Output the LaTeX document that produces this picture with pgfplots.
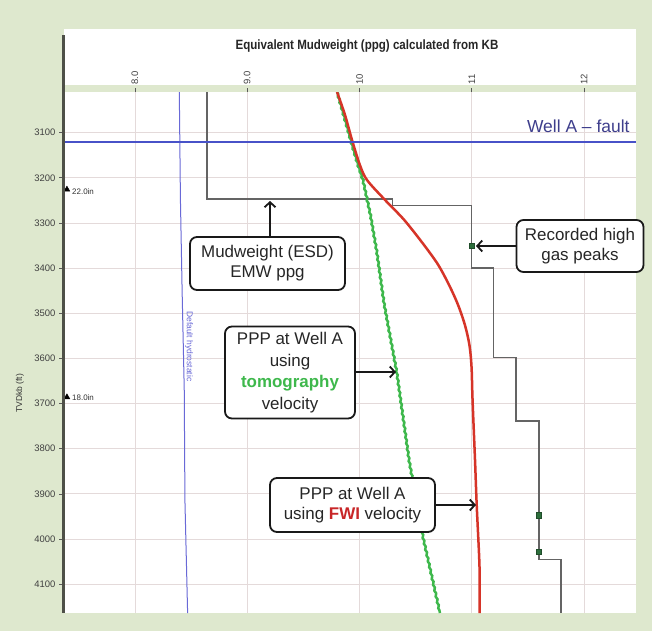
\documentclass[border=0pt]{standalone}
\usepackage{pgfplots}
\pgfplotsset{compat=1.18}
\usepackage{fontspec}
\setmainfont{Liberation Sans}
\newfontfamily\narrowfont[FakeStretch=0.86]{Liberation Sans}
\usetikzlibrary{arrows.meta,decorations.pathmorphing}
\definecolor{bggreen}{RGB}{222,232,206}
\definecolor{gridc}{RGB}{228,218,218}
\definecolor{fwired}{RGB}{214,52,40}
\definecolor{fwitext}{RGB}{200,38,40}
\definecolor{tomogreen}{RGB}{62,184,76}
\definecolor{mudgray}{RGB}{100,100,100}
\definecolor{hydroblue}{RGB}{105,105,215}
\definecolor{faultblue}{RGB}{72,82,200}
\definecolor{faulttext}{RGB}{62,62,140}
\definecolor{gasgreen}{RGB}{45,110,60}
\definecolor{axisdark}{RGB}{78,80,72}
\begin{document}
\begin{tikzpicture}[
  box/.style={draw=black!90, line width=1.8bp, rounded corners=7bp, fill=white, align=center,
    font=\fontsize{17}{20}\selectfont, inner sep=0pt, text=black!85},
  arr/.style={line width=1.8bp, black!90, -{Straight Barb[length=5bp,width=11bp]}}]
\fill[bggreen] (0,0) rectangle (652bp,-631bp);
\fill[white] (64bp,-29bp) rectangle (636bp,-85bp);
\begin{axis}[
  at={(63bp,-613bp)}, anchor=south west,
  scale only axis, width=573bp, height=521bp,
  xmin=7.359, xmax=12.463, ymin=3010, ymax=4164, y dir=reverse,
  axis background/.style={fill=white},
  axis line style={draw=none},
  grid=major, major grid style={gridc, line width=0.8bp},
  xtick={8,9,10,11,12}, xticklabels={8.0,9.0,10,11,12},
  xtick pos=right, xticklabel pos=right,
  ytick={3100,3200,...,4100}, ytick pos=left,
  tick align=outside, major tick length=4bp, tick style={black!65, line width=0.6bp},
  /pgf/number format/assume math mode=true,
  /pgf/number format/1000 sep={},
  yticklabel style={font=\fontsize{9.5}{10}\selectfont, text=black!75},
  xticklabel style={font=\fontsize{9.5}{10}\selectfont, text=black!75, rotate=90, anchor=west},
  ylabel={TVDkb (ft)},
  ylabel style={at={(axis description cs:-0.075,0.422)}, anchor=center, font=\fontsize{8.5}{10}\selectfont, text=black!80},
]
% default hydrostatic
\addplot[hydroblue, line width=1bp] coordinates {
 (8.395,3010) (8.405,3249) (8.420,3450) (8.439,3670) (8.445,3914) (8.469,4164)};
% mudweight (ESD) EMW ppg
\addplot[mudgray, line width=1.4bp] coordinates {
 (8.641,3010) (8.641,3247) (10.296,3247) (10.296,3262) (11.0,3262) (11.0,3400)
 (11.192,3400) (11.192,3598) (11.394,3598) (11.394,3739) (11.599,3739) (11.599,4045)
 (11.795,4045) (11.795,4164)};
% tomography PPP
\addplot[tomogreen, line width=2.5bp, decorate, decoration={snake, amplitude=0.6bp, segment length=6bp}] coordinates {
 (9.800,3010) (9.871,3072) (9.933,3127) (9.987,3172) (10.031,3205) (10.094,3278)
 (10.151,3360) (10.218,3478) (10.331,3630) (10.441,3825) (10.566,3996) (10.717,4164)};
% FWI PPP
\addplot[fwired, line width=2.5bp, smooth] coordinates {
 (9.800,3010) (9.871,3061) (9.933,3116) (10.004,3172) (10.067,3205) (10.227,3249)
 (10.397,3293) (10.566,3346) (10.699,3392) (10.797,3437) (10.877,3481) (10.939,3526)
 (10.979,3570) (10.998,3619) (11.007,3692) (11.029,3825) (11.044,3925) (11.069,4062) (11.069,4164)};
% fault
\addplot[faultblue, line width=2bp] coordinates {(7.359,3120) (12.463,3120)};
% gas peaks
\addplot[only marks, mark=square*, mark size=2.6bp, mark options={fill=gasgreen, draw=gasgreen!70!black}] coordinates {
 (11.0,3351) (11.599,3947.5) (11.599,4029)};
% casing shoes
\addplot[only marks, mark=triangle*, mark size=3.4bp, black] coordinates {(7.394,3226) (7.394,3686)};
\end{axis}
\draw[axisdark, line width=3bp] (63bp,-35bp) -- (63bp,-613bp);
\node[font=\narrowfont\bfseries\fontsize{13.5}{15}\selectfont, text=black!85] at (367bp,-46bp) {Equivalent Mudweight (ppg) calculated from KB};
\node[anchor=east, text=faulttext, font=\fontsize{17.5}{20}\selectfont] at (633bp,-126bp) {Well A \textendash\ fault};
\node[anchor=west, font=\fontsize{8}{9}\selectfont, text=black!80, inner sep=1bp] at (71bp,-191.5bp) {22.0in};
\node[anchor=west, font=\fontsize{8}{9}\selectfont, text=black!80, inner sep=1bp] at (71bp,-398bp) {18.0in};
\node[rotate=-90, anchor=west, text=hydroblue, font=\fontsize{8.5}{9}\selectfont, inner sep=1bp] at (189bp,-310bp) {Default hydrostatic};
% annotations
\node[box, minimum width=155bp, minimum height=53bp] at (267.5bp,-263.5bp) {Mudweight (ESD)\\EMW ppg};
\draw[arr] (270bp,-237bp) -- (270bp,-201bp);
\node[box, minimum width=127bp, minimum height=52bp] at (580bp,-246bp) {Recorded high\\gas peaks};
\draw[arr] (516.5bp,-246bp) -- (476bp,-246bp);
\node[box, minimum width=130bp, minimum height=92bp, font=\fontsize{17}{21.5}\selectfont] at (290bp,-372.5bp) {PPP at Well A\\using\\\textcolor{tomogreen}{\textbf{tomography}}\\velocity};
\draw[arr] (355bp,-372bp) -- (396bp,-372bp);
\node[box, minimum width=165bp, minimum height=54bp] at (352.5bp,-505bp) {PPP at Well A\\using \textcolor{fwitext}{\textbf{FWI}} velocity};
\draw[arr] (435bp,-505bp) -- (476bp,-505bp);
\pgfresetboundingbox
\useasboundingbox (0,0) rectangle (652bp,-631bp);
\end{tikzpicture}
\end{document}
